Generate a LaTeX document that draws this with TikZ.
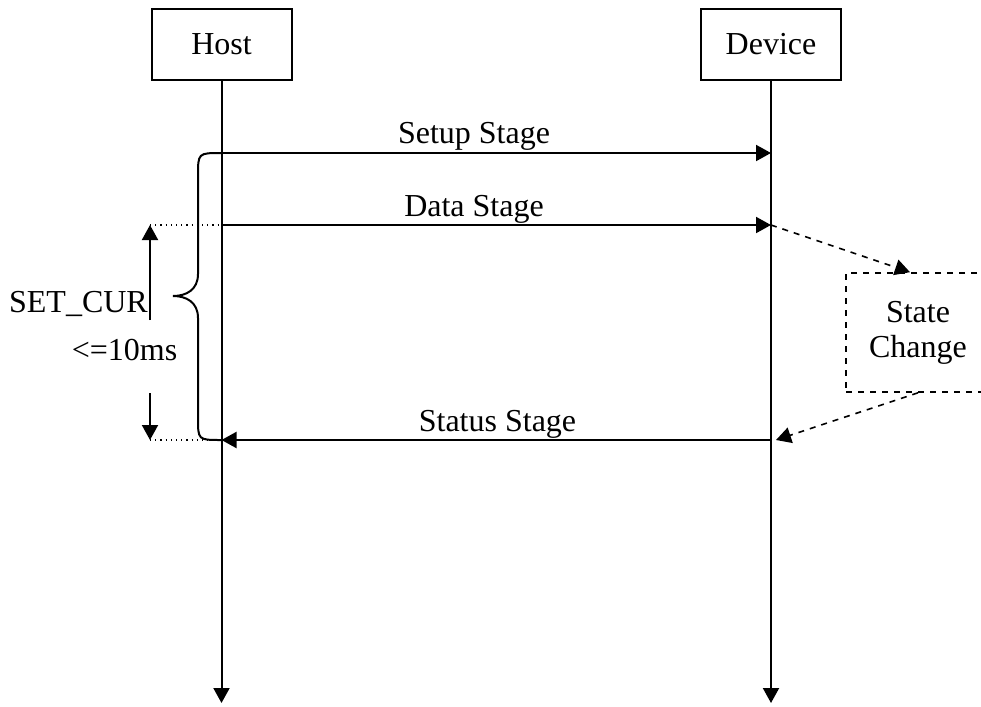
\documentclass[tikz,border=0pt]{standalone}
\usepackage{fontspec}
\setmainfont{Liberation Serif}
\usetikzlibrary{arrows.meta}

\tikzset{
    lifebox/.style={draw, line width=1pt, minimum width=70pt, minimum height=35.5pt, inner sep=0pt},
    statebox/.style={draw, dashed, line width=0.8pt, minimum width=72pt, minimum height=59.5pt, align=center, inner sep=0pt},
    msg/.style={-{Triangle[length=7.5pt,width=8pt]}, line width=1pt},
    dmsg/.style={-{Triangle[length=7.5pt,width=8pt]}, dashed, line width=0.8pt},
    lbl/.style={anchor=base, inner sep=0pt}
}

\begin{document}
\begin{tikzpicture}[x=0.5pt, y=-0.5pt, every node/.style={font=\fontsize{16}{17.5}\selectfont}]
        \useasboundingbox (0,0) rectangle (981,707);
        % lifelines
        \node[lifebox] (host) at (221.5,44.5) {Host};
        \node[lifebox] (dev) at (771,44.5) {Device};
        \coordinate (hostend) at (221.5,703);
        \coordinate (devend) at (771,703);
        \draw[msg] (host.south) -- (hostend);
        \draw[msg] (dev.south) -- (devend);
        % stages
        \coordinate (h1) at (221.5,153);
        \coordinate (d1) at (771,153);
        \coordinate (h2) at (221.5,225);
        \coordinate (d2) at (771,225);
        \coordinate (h3) at (221.5,440);
        \coordinate (d3) at (771,440);
        \draw[msg] (h1) -- (d1);
        \draw[msg] (h2) -- (d2);
        \draw[msg] (d3) -- (h3);
        \node[lbl] (setup) at (474,143) {Setup Stage};
        \node[lbl] (data) at (474,216) {Data Stage};
        \node[lbl] (status) at (497.5,431) {Status Stage};
        % state change
        \node[statebox] (state) at (918,332.5) {State\\Change};
        \draw[dmsg] (d2) -- (910,0 |- state.north);
        \draw[dmsg] (state.south) -- ([xshift=2.5pt]d3);
        % brace
        \draw[line width=1pt] (h1) .. controls (198,153) .. (198,176) -- (198,274)
            .. controls (198,290) and (186,296) .. (173,296)
            .. controls (186,296) and (198,302) .. (198,318)
            -- (198,418) .. controls (198,440) .. (h3);
        \node[lbl] (setcur) at (78.5,312) {SET\_CUR};
        % timing
        \coordinate (dimtop) at (150,225);
        \coordinate (dimbot) at (150,440);
        \coordinate (dimup) at (150,320);
        \coordinate (dimdn) at (150,393);
        \draw[dotted, line width=0.6pt] (dimtop) -- (h2);
        \draw[dotted, line width=0.6pt] (dimbot) -- (h3);
        \draw[msg] (dimup) -- (dimtop);
        \draw[msg] (dimdn) -- (dimbot);
        \node[lbl] (limit) at (124.5,360) {<=10ms};
    \end{tikzpicture}
\end{document}
